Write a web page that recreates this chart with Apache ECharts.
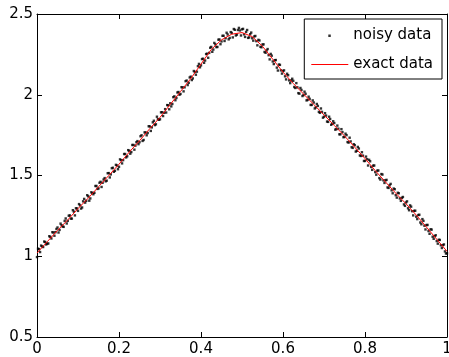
<!DOCTYPE html>
<html>
<head>
<meta charset="utf-8">
<script src="https://cdn.jsdelivr.net/npm/echarts@6/dist/echarts.min.js"></script>
<style>
  html, body { margin: 0; padding: 0; background: #fff; }
  #main { width: 449px; height: 357px; }
</style>
</head>
<body>
<div id="main"></div>
<script>
// exact curve, read every 0.025
const exactX = [0, 0.025, 0.05, 0.075, 0.1, 0.125, 0.15, 0.175, 0.2, 0.225, 0.25, 0.275, 0.3, 0.325, 0.35, 0.375,
  0.4, 0.425, 0.45, 0.475, 0.5, 0.525, 0.55, 0.575, 0.6, 0.625, 0.65, 0.675, 0.7, 0.725, 0.75, 0.775,
  0.8, 0.825, 0.85, 0.875, 0.9, 0.925, 0.95, 0.975, 1];
const exactY = [1.02, 1.09, 1.16, 1.225, 1.295, 1.36, 1.43, 1.50, 1.57, 1.645, 1.715, 1.79, 1.86, 1.94, 2.02, 2.10,
  2.19, 2.28, 2.34, 2.375, 2.385, 2.36, 2.30, 2.22, 2.14, 2.07, 2.005, 1.94, 1.875, 1.81, 1.745, 1.675,
  1.605, 1.53, 1.46, 1.39, 1.325, 1.255, 1.18, 1.105, 1.03];

// noisy samples at x = 0, 0.005, ... 1
const noisyY = [
  0.995, 1.044, 1.066, 1.057, 1.088, 1.078, 1.124, 1.110, 1.147, 1.149,
  1.178, 1.163, 1.192, 1.182, 1.234, 1.219, 1.253, 1.233, 1.276, 1.297,
  1.281, 1.315, 1.302, 1.355, 1.343, 1.371, 1.358, 1.392, 1.393, 1.435,
  1.420, 1.461, 1.455, 1.484, 1.468, 1.515, 1.507, 1.548, 1.529, 1.562,
  1.554, 1.595, 1.595, 1.633, 1.619, 1.653, 1.645, 1.689, 1.685, 1.713,
  1.706, 1.749, 1.720, 1.766, 1.763, 1.804, 1.798, 1.839, 1.817, 1.849,
  1.848, 1.892, 1.888, 1.890, 1.935, 1.947, 1.943, 1.990, 1.980, 2.017,
  2.005, 2.045, 2.046, 2.088, 2.074, 2.112, 2.101, 2.141, 2.143, 2.191,
  2.182, 2.223, 2.212, 2.254, 2.259, 2.296, 2.280, 2.312, 2.296, 2.342,
  2.330, 2.365, 2.350, 2.373, 2.352, 2.383, 2.407, 2.367, 2.401, 2.398,
  2.405, 2.374, 2.389, 2.352, 2.375, 2.350, 2.361, 2.332, 2.340, 2.297,
  2.311, 2.265, 2.274, 2.245, 2.253, 2.206, 2.214, 2.168, 2.187, 2.151,
  2.147, 2.114, 2.130, 2.089, 2.088, 2.086, 2.042, 2.046, 2.007, 2.030,
  1.998, 2.006, 1.968, 1.975, 1.937, 1.952, 1.922, 1.931, 1.888, 1.894,
  1.864, 1.871, 1.832, 1.850, 1.820, 1.825, 1.787, 1.790, 1.755, 1.769,
  1.739, 1.750, 1.704, 1.711, 1.671, 1.688, 1.653, 1.667, 1.621, 1.623,
  1.590, 1.601, 1.597, 1.553, 1.561, 1.521, 1.530, 1.484, 1.509, 1.470,
  1.470, 1.426, 1.439, 1.408, 1.419, 1.378, 1.393, 1.358, 1.362, 1.321,
  1.333, 1.297, 1.315, 1.279, 1.281, 1.245, 1.255, 1.209, 1.230, 1.189,
  1.193, 1.156, 1.167, 1.121, 1.125, 1.094, 1.102, 1.068, 1.069, 1.030,
  1.018
];
// noisy samples in between, at x = 0.0025, 0.0075, ... 0.9975
const noisyY2 = [
  1.047, 1.026, 1.061, 1.091, 1.073, 1.079, 1.120, 1.149, 1.127, 1.169,
  1.147, 1.202, 1.184, 1.219, 1.203, 1.251, 1.233, 1.285, 1.253, 1.296,
  1.323, 1.295, 1.340, 1.332, 1.378, 1.344, 1.396, 1.384, 1.435, 1.417,
  1.455, 1.429, 1.475, 1.464, 1.514, 1.488, 1.545, 1.523, 1.566, 1.539,
  1.600, 1.575, 1.633, 1.612, 1.657, 1.635, 1.689, 1.660, 1.706, 1.694,
  1.743, 1.714, 1.767, 1.749, 1.805, 1.776, 1.829, 1.812, 1.864, 1.845,
  1.891, 1.868, 1.911, 1.936, 1.910, 1.928, 1.985, 1.966, 2.014, 2.000,
  2.047, 2.021, 2.084, 2.060, 2.107, 2.091, 2.147, 2.124, 2.177, 2.170,
  2.221, 2.198, 2.252, 2.229, 2.291, 2.266, 2.321, 2.295, 2.341, 2.313,
  2.365, 2.333, 2.384, 2.343, 2.388, 2.355, 2.402, 2.372, 2.414, 2.367,
  2.408, 2.358, 2.401, 2.355, 2.385, 2.335, 2.364, 2.306, 2.336, 2.294,
  2.312, 2.260, 2.283, 2.219, 2.242, 2.190, 2.215, 2.150, 2.185, 2.131,
  2.151, 2.095, 2.121, 2.072, 2.099, 2.048, 2.072, 2.010, 2.042, 1.992,
  2.019, 1.965, 1.988, 1.937, 1.965, 1.915, 1.943, 1.894, 1.915, 1.858,
  1.886, 1.834, 1.864, 1.814, 1.836, 1.784, 1.809, 1.755, 1.787, 1.737,
  1.759, 1.707, 1.734, 1.675, 1.694, 1.648, 1.677, 1.624, 1.644, 1.590,
  1.617, 1.562, 1.588, 1.535, 1.562, 1.505, 1.531, 1.475, 1.506, 1.454,
  1.473, 1.423, 1.448, 1.390, 1.415, 1.363, 1.390, 1.343, 1.367, 1.312,
  1.340, 1.285, 1.307, 1.253, 1.282, 1.230, 1.257, 1.198, 1.219, 1.166,
  1.194, 1.139, 1.165, 1.108, 1.130, 1.078, 1.101, 1.051, 1.073, 1.017
];

const noisyPoints = noisyY.map((y, i) => [i / 200, y])
  .concat(noisyY2.map((y, i) => [(2 * i + 1) / 400, y]));

const seriesNames = ['noisy data', 'exact data'];

const font = 'DejaVu Sans';
let myChart = echarts.init(document.getElementById('main'));

const axisBase = {
  type: 'value',
  axisLine: { show: true, onZero: false, lineStyle: { color: '#000', width: 1 } },
  axisTick: { show: true, inside: true, length: 5, lineStyle: { color: '#000' } },
  splitLine: { show: false }
};

let option = {
  animation: false,
  backgroundColor: '#fff',
  grid: { left: 37, right: 2, top: 14, bottom: 20, containLabel: false, outerBoundsMode: 'none' },
  legend: {
    orient: 'vertical',
    right: 7,
    top: 19,
    padding: [9, 9, 7, 7],
    itemWidth: 37,
    itemHeight: 14,
    itemGap: 14,
    borderColor: '#000',
    borderWidth: 1,
    borderRadius: 0,
    backgroundColor: '#fff',
    textStyle: { fontFamily: font, fontSize: 15, color: '#000' },
    data: [
      { name: seriesNames[0], icon: 'path://M0,0M37,14M17,6h2.5v2.5h-2.5z', itemStyle: { color: '#000' } },
      { name: seriesNames[1], icon: 'path://M0,0M37,14M0,6.5h37v1h-37z', itemStyle: { color: '#ff0000' } }
    ]
  },
  xAxis: [
    Object.assign({}, axisBase, {
      min: 0, max: 1, interval: 0.2, position: 'bottom',
      axisLabel: { fontFamily: font, fontSize: 15, color: '#000', margin: 5 }
    }),
    Object.assign({}, axisBase, {
      min: 0, max: 1, interval: 0.2, position: 'top',
      axisLabel: { show: false }
    })
  ],
  yAxis: [
    Object.assign({}, axisBase, {
      min: 0.5, max: 2.5, interval: 0.5, position: 'left',
      axisLabel: { fontFamily: font, fontSize: 15, color: '#000', margin: 4 }
    }),
    Object.assign({}, axisBase, {
      min: 0.5, max: 2.5, interval: 0.5, position: 'right',
      axisLabel: { show: false }
    })
  ],
  series: [
    {
      name: seriesNames[0],
      type: 'scatter',
      symbol: 'rect',
      symbolSize: 2.4,
      itemStyle: { color: '#000' },
      data: noisyPoints
    },
    {
      name: seriesNames[1],
      type: 'line',
      showSymbol: false,
      lineStyle: { color: '#ff0000', width: 1 },
      itemStyle: { color: '#ff0000' },
      data: exactX.map((x, i) => [x, exactY[i]])
    }
  ]
};

myChart.setOption(option);
</script>
</body>
</html>
